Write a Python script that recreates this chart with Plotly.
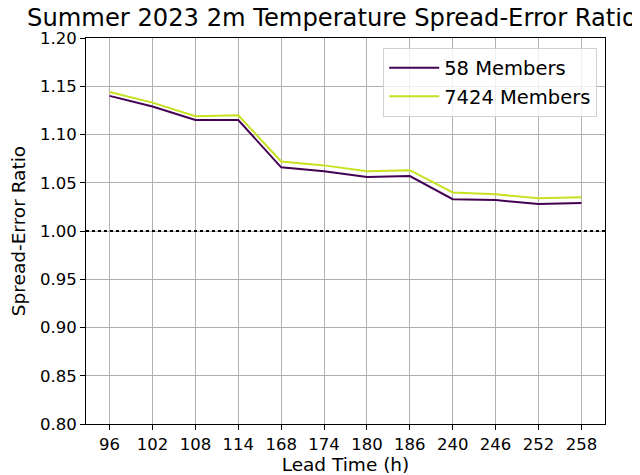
import plotly.graph_objects as go

lead_times = ['96', '102', '108', '114', '168', '174', '180', '186', '240', '246', '252', '258']
ratio_58 = [1.140, 1.129, 1.115, 1.115, 1.066, 1.062, 1.056, 1.057, 1.033, 1.032, 1.028, 1.029]
ratio_7424 = [1.144, 1.133, 1.119, 1.120, 1.072, 1.068, 1.062, 1.063, 1.040, 1.038, 1.034, 1.035]
y_ticks = [0.80, 0.85, 0.90, 0.95, 1.00, 1.05, 1.10, 1.15, 1.20]

font = 'DejaVu Sans'

fig = go.Figure()
fig.add_trace(go.Scatter(x=lead_times, y=ratio_58, mode='lines', name='58 Members',
                         line=dict(color='#440154', width=2)))
fig.add_trace(go.Scatter(x=lead_times, y=ratio_7424, mode='lines', name='7424 Members',
                         line=dict(color='#c8e020', width=2)))

# dotted reference line at ratio 1
fig.add_shape(type='line', xref='paper', yref='y', x0=0, x1=1, y0=1.0, y1=1.0,
              line=dict(color='black', width=2, dash='dot'))

# the page body adds an 8px margin, so the figure is 8px smaller on each axis
fig.update_layout(
    width=632, height=467,
    margin=dict(l=78, r=35, t=30, b=51),
    plot_bgcolor='white', paper_bgcolor='white',
    font=dict(family=font, color='black', size=16.5),
    title=dict(text='Summer 2023 2m Temperature Spread-Error Ratio',
               font=dict(size=24.2), x=0.474, xref='paper', xanchor='center',
               y=0.98, yanchor='middle'),
    legend=dict(x=0.985, xanchor='right', y=0.975, yanchor='top',
                bgcolor='rgba(255,255,255,0.8)', bordercolor='#d0d0d0', borderwidth=1,
                font=dict(size=19.5), itemwidth=50, tracegroupgap=0),
    showlegend=True,
)
fig.update_xaxes(
    type='category', range=[-0.55, 11.55], automargin=False,
    showgrid=True, gridcolor='#b0b0b0', gridwidth=1,
    showline=True, linecolor='black', linewidth=1, mirror=True,
    ticks='outside', ticklen=5, tickcolor='black',
    title=dict(text='Lead Time (h)', font=dict(size=18.5), standoff=2),
)
fig.update_yaxes(
    range=[0.80, 1.20], tickvals=y_ticks, tickformat='.2f', automargin=False,
    showgrid=True, gridcolor='#b0b0b0', gridwidth=1, zeroline=False,
    showline=True, linecolor='black', linewidth=1, mirror=True,
    ticks='outside', ticklen=5, tickcolor='black',
    title=dict(text='Spread-Error Ratio', font=dict(size=18.5), standoff=14),
)

fig.write_html('out.html')
